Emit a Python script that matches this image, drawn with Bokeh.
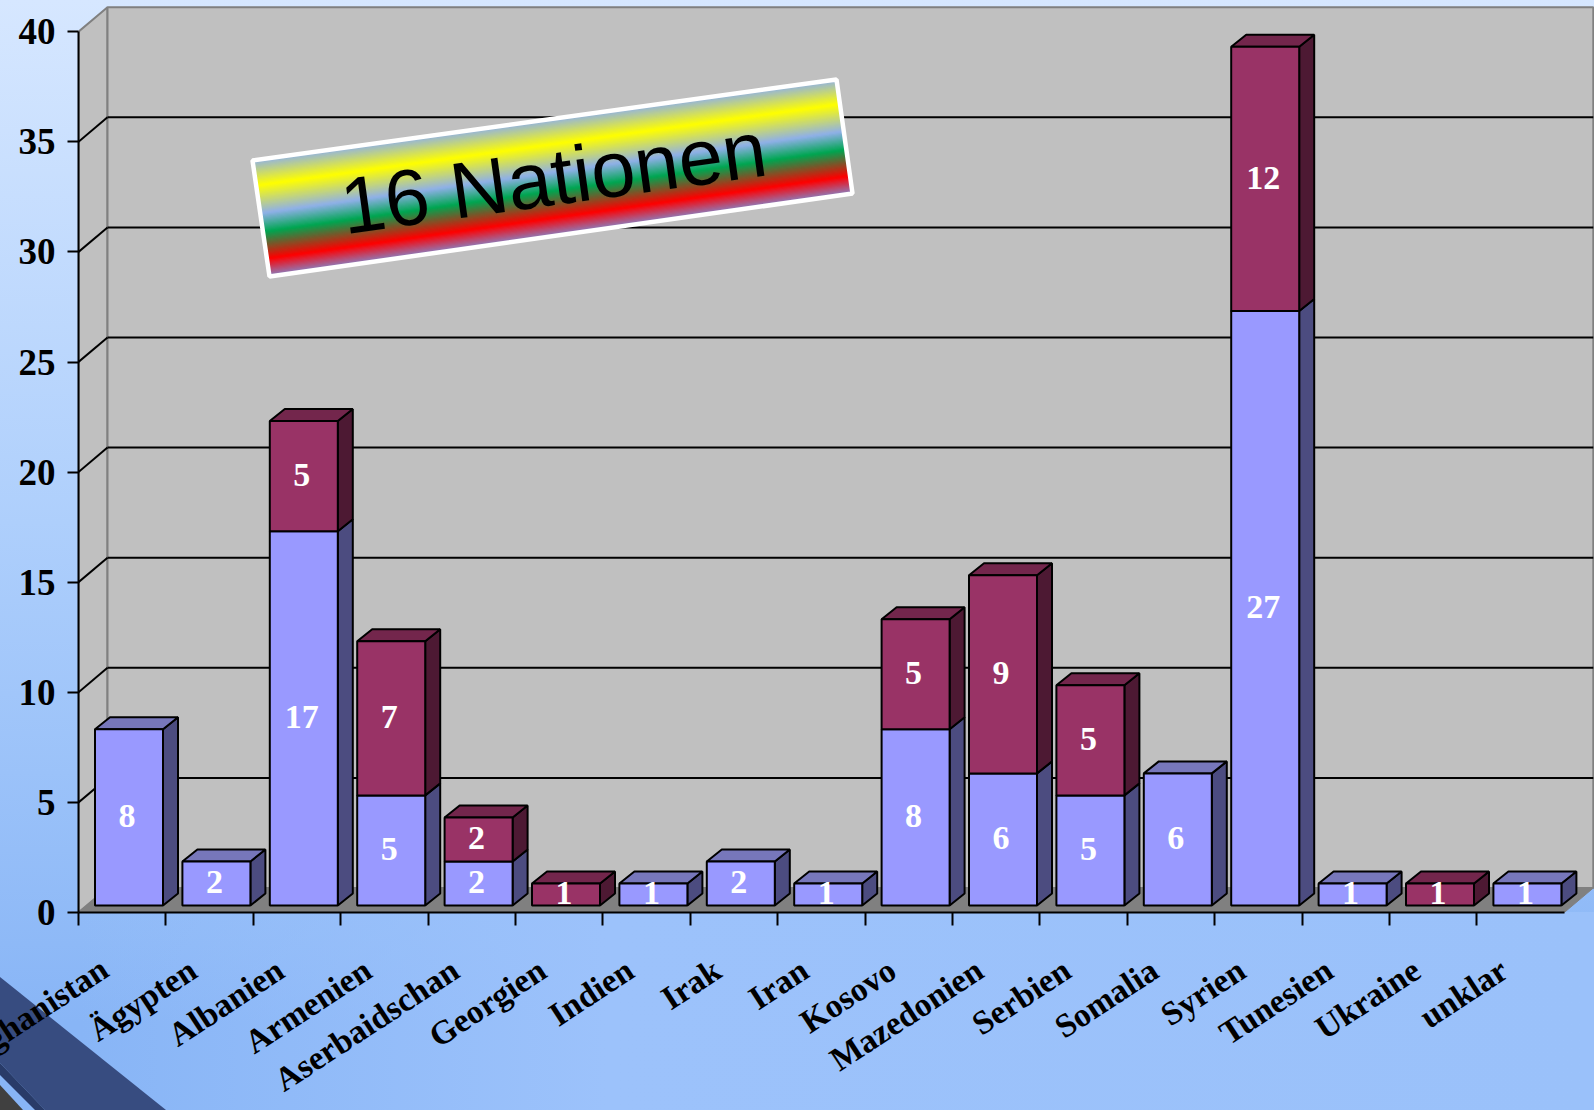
import math
from bokeh.plotting import figure
from bokeh.embed import file_html
from bokeh.resources import INLINE
from bokeh.core.properties import value
from bokeh.models import Range1d, FixedTicker, Label

categories = ["Afghanistan", "Ägypten", "Albanien", "Armenien", "Aserbaidschan", "Georgien",
              "Indien", "Irak", "Iran", "Kosovo", "Mazedonien", "Serbien", "Somalia", "Syrien",
              "Tunesien", "Ukraine", "unklar"]
series_blue = [8, 2, 17, 5, 2, 0, 1, 2, 1, 8, 6, 5, 6, 27, 1, 0, 1]
series_red = [0, 0, 5, 7, 2, 1, 0, 0, 0, 5, 9, 5, 0, 12, 0, 1, 0]
y_ticks = [0, 5, 10, 15, 20, 25, 30, 35, 40]
banner_text = "16 Nationen"

W, H = 1594, 1110
L, B = 78, 912
UX, UY = 87.4, 22.02
SERIF = "Liberation Serif"

def dx(px): return px / UX
def dy(px): return px / UY
def X(px): return (px - L) / UX
def Y(py): return (B - py) / UY

p = figure(width=W, height=H, frame_width=W - L, frame_height=B,
           x_range=Range1d(0, dx(W - L)), y_range=Range1d(0, dy(B)),
           output_backend="svg", toolbar_location=None,
           min_border=0, min_border_left=L, min_border_bottom=H - B, min_border_top=0, min_border_right=0,
           background_fill_alpha=0, border_fill_alpha=0, outline_line_alpha=0)

# page background: soft blue gradient with the decorative ribbon of the lower left corner
ribbon = ("<svg xmlns='http://www.w3.org/2000/svg' width='1594' height='1110'>"
          "<polygon points='0,977 166,1110 45,1110 0,1063' fill='%23374c80'/>"
          "<polygon points='0,1063 45,1110 35,1110 0,1075' fill='%23293b68'/>"
          "<polygon points='0,1085 23,1110 0,1110' fill='%23404040'/></svg>")
p.styles = {"background": f'url("data:image/svg+xml,{ribbon}") no-repeat, '
                          "linear-gradient(to right,rgba(156,194,251,0) 5%,#9cc2fb 38%,#9ac1fa 100%) 0 912px / 100% 198px no-repeat, "
                          "linear-gradient(to bottom,#d6e7ff 0%,#aecffc 42%,#88b5f6 82.2%,#88b5f6 100%)"}
p.grid.visible = False

# 3D box
DX, DY = dx(29), dy(24.5)
N = len(categories)
top = y_ticks[-1]
GRAY = "#808080"
p.patch([0, DX, DX, 0], [0, DY, top + DY, top], fill_color="#c0c0c0", line_color=GRAY, line_width=2)
p.quad(left=[DX], right=[N + DX], bottom=[DY], top=[top + DY], fill_color="#c0c0c0", line_color=GRAY, line_width=2)
p.patch([0, N, N + DX, DX], [0, 0, DY, DY], fill_color=GRAY, line_color=GRAY, line_width=1)
gt = y_ticks[1:-1]
p.segment(x0=[DX] * len(gt), x1=[N + DX] * len(gt), y0=[t + DY for t in gt], y1=[t + DY for t in gt],
          line_color="black", line_width=2)
p.segment(x0=[0] * len(gt), x1=[DX] * len(gt), y0=gt, y1=[t + DY for t in gt], line_color="black", line_width=2)

# banner
corners = [(252, 160), (836, 79), (852, 193), (269, 276)]
stops = [(0, (143, 176, 232)), (.22, (255, 255, 0)), (.46, (143, 176, 232)), (.62, (0, 166, 81)),
         (.85, (255, 0, 0)), (1, (138, 128, 192))]
def mix(t):
    for (a, ca), (b, cb) in zip(stops, stops[1:]):
        if a <= t <= b:
            f = (t - a) / (b - a)
            return "#%02x%02x%02x" % tuple(round(u + (v - u) * f) for u, v in zip(ca, cb))
    return "#000000"
tl, tr, br, bl = corners
n = 100
sx, sy, sc = [], [], []
for k in range(n):
    a, b = k / n, (k + 1) / n
    P = lambda s, c, d: (c[0] + (d[0] - c[0]) * s, c[1] + (d[1] - c[1]) * s)
    q = [P(a, tl, bl), P(a, tr, br), P(b + 0.004, tr, br), P(b + 0.004, tl, bl)]
    sx.append([X(u[0]) for u in q]); sy.append([Y(u[1]) for u in q]); sc.append(mix((a + b) / 2))
p.patches(sx, sy, fill_color=sc, line_color=sc, line_width=1)
p.patch([X(c[0]) for c in corners], [Y(c[1]) for c in corners], fill_alpha=0, line_color="white", line_width=4.5)
p.text(x=[X(553)], y=[Y(177)], text=[banner_text], text_font=value("Liberation Sans"), text_font_size="79.5px",
       text_color="black", angle=[math.atan2(81, 584)], text_align="center", text_baseline="alphabetic")

# bars
BL, BR = dx(16.5), dx(84.5)
BASE = dy(7)
SDX, SDY = dx(15), dy(12)
FRONT = {"blue": ("#9999ff", "#7777bb", "#4c4c80"), "red": ("#993366", "#73264c", "#4d1933")}
fl, fr, fb, ft, fc = [], [], [], [], []
sxs, sys, scs, txs, tys, tcs = [], [], [], [], [], []
lx, ly, lt = [], [], []
for i, (vb, vr) in enumerate(zip(series_blue, series_red)):
    y0 = BASE
    segs = [s for s in [(vb, "blue"), (vr, "red")] if s[0] > 0]
    for j, (v, name) in enumerate(segs):
        y1 = y0 + v
        c_front, c_top, c_side = FRONT[name]
        l, r = i + BL, i + BR
        fl.append(l); fr.append(r); fb.append(y0); ft.append(y1); fc.append(c_front)
        sxs.append([r, r + SDX, r + SDX, r]); sys.append([y0, y0 + SDY, y1 + SDY, y1]); scs.append(c_side)
        if j == len(segs) - 1:
            txs.append([l, l + SDX, r + SDX, r]); tys.append([y1, y1 + SDY, y1 + SDY, y1]); tcs.append(c_top)
        lx.append((l + r) / 2 - dx(2)); ly.append((y0 + y1) / 2 + dy(1)); lt.append(str(v))
        y0 = y1
p.patches(sxs, sys, fill_color=scs, line_color="black", line_width=2)
p.patches(txs, tys, fill_color=tcs, line_color="black", line_width=2)
p.quad(left=fl, right=fr, bottom=fb, top=ft, fill_color=fc, line_color="black", line_width=2)
p.text(x=lx, y=ly, text=lt, text_color="white", text_font=value(SERIF), text_font_style="bold",
       text_font_size="34px", text_align="center", text_baseline="middle")

# axes
ya = p.yaxis[0]
ya.ticker = FixedTicker(ticks=y_ticks)
ya.bounds = (0, 40)
ya.axis_line_color = "black"; ya.axis_line_width = 2
ya.major_tick_line_color = "black"; ya.major_tick_line_width = 2
ya.major_tick_in = 0; ya.major_tick_out = 11
ya.minor_tick_line_color = None
ya.major_label_text_font = SERIF; ya.major_label_text_font_style = "bold"
ya.major_label_text_font_size = "37px"; ya.major_label_text_color = "black"
ya.major_label_standoff = 12

LABEL_POS = [i + 0.31 for i in range(N)]
ANGLE = 0.58
xa = p.xaxis[0]
xa.ticker = FixedTicker(ticks=LABEL_POS, minor_ticks=list(range(N)))
# the first label runs off the page's left edge: an axis label would be pushed back inside, so it is a Label
xa.major_label_overrides = {t: ("" if t == LABEL_POS[0] else c) for t, c in zip(LABEL_POS, categories)}
xa.bounds = (0, N)
xa.axis_line_color = "black"; xa.axis_line_width = 2
xa.major_tick_line_color = None
xa.major_tick_in = 0; xa.major_tick_out = 0
xa.minor_tick_line_color = "black"; xa.minor_tick_line_width = 2
xa.minor_tick_in = 0; xa.minor_tick_out = 13
xa.major_label_orientation = ANGLE
xa.major_label_text_font = SERIF; xa.major_label_text_font_style = "bold"
xa.major_label_text_font_size = "33.5px"; xa.major_label_text_color = "black"
xa.major_label_standoff = 41

p.add_layout(Label(x=104, y=965, x_units="canvas", y_units="canvas", text=categories[0], angle=ANGLE,
                   text_align="right", text_baseline="middle", text_font=SERIF,
                   text_font_style="bold", text_font_size="33.5px", text_color="black"), "below")

open("out.html", "w").write(file_html(p, INLINE))
